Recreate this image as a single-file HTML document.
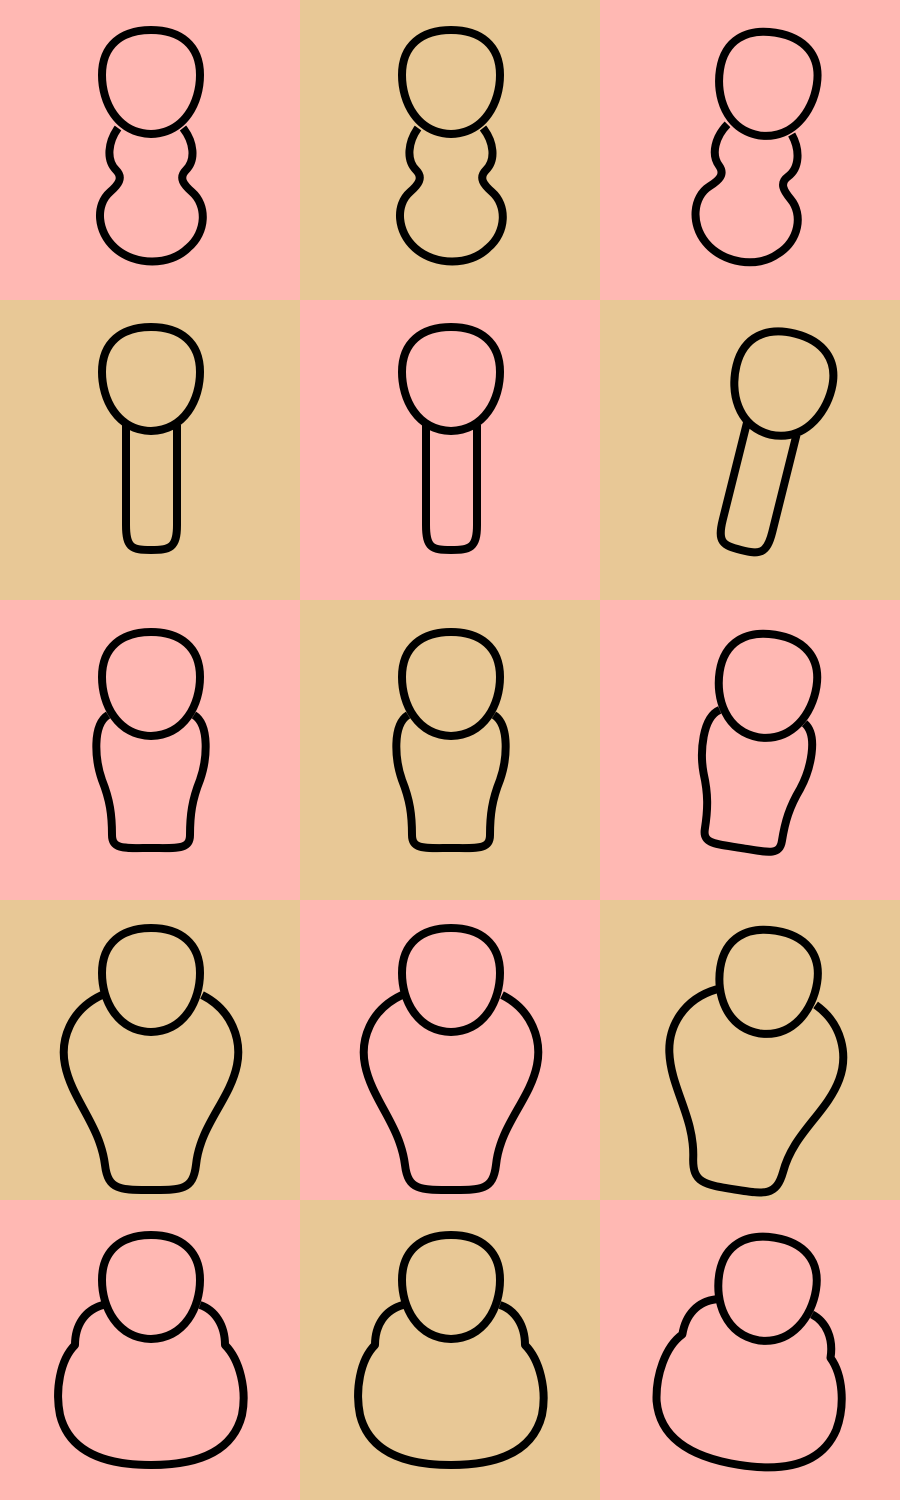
<!DOCTYPE html>
<html><head><meta charset="utf-8">
<style>
html,body{margin:0;padding:0;background:#fff;}
svg{display:block;}
</style></head>
<body>
<svg id="grid" width="900" height="1500" viewBox="0 0 900 1500" xmlns="http://www.w3.org/2000/svg"></svg>
<script>
const NS='http://www.w3.org/2000/svg';
const colors=['#FFB8B3','#E8C896'];
const headY=[0,-3,2,-2,5];
const bodies=[
'M118,128 C108,142 106,160 116,170 C124,178 118,185 110,192 C95,205 97,232 115,248 C135,266 170,266 188,248 C207,232 207,205 192,192 C184,185 178,178 186,170 C196,160 194,142 183,128',
'M126,125 L126,225 C126,248 132,250 151,250 C170,250 177,248 177,225 L177,125',
'M108,115 C92,125 95,160 102,180 C110,200 112,215 112,235 C112,250 125,248 151,248 C177,248 190,250 190,235 C190,215 192,200 200,180 C207,160 210,125 194,115',
'M102,95 C70,110 60,140 65,165 C72,200 100,225 105,265 C108,290 120,290 151,290 C182,290 193,290 196,265 C200,225 230,200 237,165 C242,140 232,110 202,95',
'M103,105 C85,110 75,125 75,145 C60,160 55,190 60,215 C70,255 110,265 151,265 C192,265 232,255 242,215 C247,190 240,160 225,145 C225,125 215,110 200,105'
];
const head='M151,30 C180,30 200,45 200,75 C200,102 185,133 151,134 C117,133 102,102 102,75 C102,45 122,30 151,30 Z';
const rowNames=['gourd','stick','vase','bell','round'];
const svg=document.getElementById('grid');
for(let r=0;r<5;r++){
  for(let c=0;c<3;c++){
    const g=document.createElementNS(NS,'g');
    
    
    g.setAttribute('transform','translate('+(c*300)+','+(r*300)+')');
    const bg=document.createElementNS(NS,'rect');
    
    
    bg.setAttribute('width','300');bg.setAttribute('height','300');
    const col=colors[(r+c)%2];
    bg.setAttribute('fill',col);
    g.appendChild(bg);
    const fig=document.createElementNS(NS,'g');
    
    
    if(c===2){fig.setAttribute('transform','translate(-10,0) rotate('+(r===1?14:9)+' 151 250)');}
    const b=document.createElementNS(NS,'path');
    
    
    b.setAttribute('d',bodies[r]);
    b.setAttribute('fill',col);b.setAttribute('stroke','#000');
    b.setAttribute('stroke-width','8');b.setAttribute('stroke-linejoin','round');
    fig.appendChild(b);
    const h=document.createElementNS(NS,'path');
    
    
    h.setAttribute('d',head);
    h.setAttribute('transform','translate(0,'+headY[r]+')');
    h.setAttribute('fill',col);h.setAttribute('stroke','#000');h.setAttribute('stroke-width','8');
    fig.appendChild(h);
    g.appendChild(fig);
    svg.appendChild(g);
  }
}
</script>
</body></html>
